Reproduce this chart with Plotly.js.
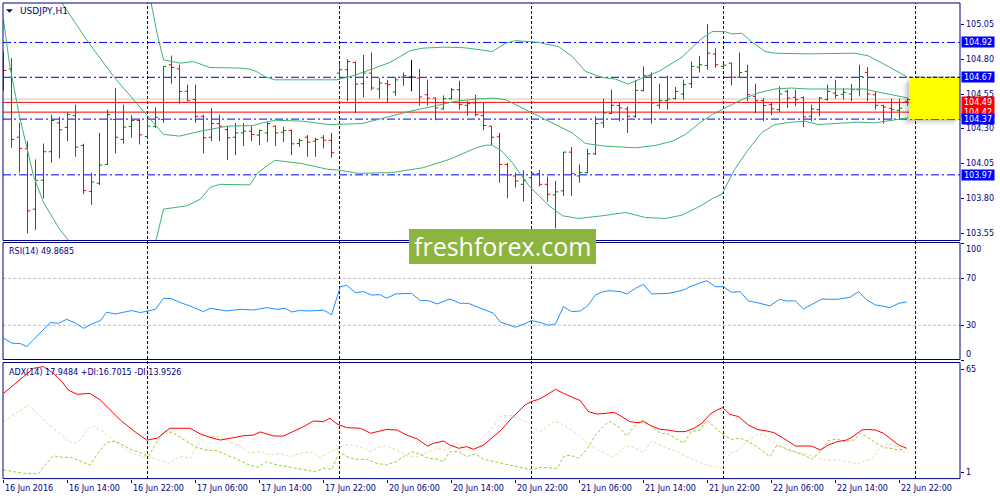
<!DOCTYPE html>
<html><head><meta charset="utf-8">
<script src="https://cdn.plot.ly/plotly-3.0.1.min.js"></script>
<style>html,body{margin:0;padding:0;background:#fff}#chart{width:1000px;height:500px}</style>
</head><body><div id="chart"></div>
<script>
// ---------------- DATA ----------------
const symbolLabel = "USDJPY,H1";
const rsiLabel = "RSI(14) 49.8685";
const adxLabel = "ADX(14) 17.9484 +DI:16.7015 -DI:13.9526";

const barOpen = [
104.800,104.729,104.240,104.157,103.724,103.931,104.136,104.343,104.310,104.395,
104.181,103.850,103.910,104.045,104.367,104.224,104.317,104.360,104.245,104.319,
104.367,104.760,104.731,104.569,104.510,104.390,104.240,104.338,104.295,104.240,
104.271,104.283,104.255,104.271,104.319,104.276,104.288,104.195,104.240,104.212,
104.236,104.217,104.700,104.724,104.776,104.624,104.700,104.586,104.624,104.564,
104.671,104.671,104.664,104.545,104.521,104.443,104.517,104.581,104.469,104.486,
104.395,104.319,104.243,104.045,103.962,103.902,103.950,103.979,103.902,103.826,
103.855,104.133,103.962,103.986,104.121,104.343,104.410,104.467,104.443,104.390,
104.574,104.681,104.469,104.502,104.517,104.550,104.624,104.743,104.755,104.836,
104.748,104.771,104.671,104.712,104.533,104.502,104.474,104.438,104.569,104.526,
104.524,104.390,104.438,104.510,104.557,104.548,104.550,104.581,104.705,104.545,
104.467,104.448,104.433,104.498];
const barHigh = [
104.855,104.807,104.343,104.212,104.081,104.195,104.402,104.386,104.419,104.474,
104.193,103.986,104.271,104.438,104.593,104.474,104.398,104.374,104.367,104.455,
104.752,104.826,104.760,104.617,104.617,104.402,104.450,104.402,104.319,104.343,
104.343,104.319,104.295,104.350,104.324,104.314,104.295,104.231,104.255,104.236,
104.255,104.271,104.776,104.800,104.783,104.831,104.848,104.664,104.652,104.671,
104.705,104.795,104.731,104.652,104.526,104.540,104.593,104.645,104.498,104.545,
104.493,104.319,104.271,104.057,103.986,104.002,103.986,104.005,103.957,103.926,
104.136,104.169,104.045,104.157,104.390,104.517,104.581,104.486,104.462,104.652,
104.748,104.705,104.624,104.681,104.600,104.652,104.783,104.824,105.052,104.879,
104.771,104.776,104.848,104.760,104.624,104.521,104.486,104.605,104.581,104.581,
104.533,104.474,104.529,104.617,104.652,104.593,104.621,104.760,104.743,104.569,
104.474,104.517,104.517,104.521];
const barLow = [
104.576,104.164,103.986,103.550,103.576,103.802,104.057,104.088,104.212,104.100,
103.831,103.755,103.898,104.040,104.124,104.195,104.236,104.188,104.240,104.307,
104.343,104.624,104.481,104.498,104.343,104.124,104.212,104.212,104.076,104.112,
104.176,104.212,104.183,104.205,104.176,104.205,104.112,104.171,104.100,104.100,
104.160,104.093,104.652,104.498,104.414,104.526,104.576,104.517,104.493,104.538,
104.610,104.569,104.467,104.467,104.362,104.438,104.510,104.438,104.395,104.390,
104.290,104.183,103.914,103.802,103.879,103.779,103.771,103.886,103.779,103.586,
103.819,103.819,103.914,103.981,104.112,104.307,104.405,104.355,104.271,104.379,
104.569,104.338,104.445,104.438,104.510,104.510,104.593,104.705,104.724,104.740,
104.736,104.612,104.664,104.498,104.414,104.355,104.398,104.419,104.450,104.462,
104.312,104.355,104.390,104.502,104.517,104.510,104.498,104.533,104.498,104.438,
104.336,104.367,104.367,104.467];
const barClose = [
104.719,104.224,104.160,103.712,103.931,104.136,104.360,104.293,104.402,104.169,
103.857,103.919,104.040,104.402,104.240,104.312,104.360,104.257,104.319,104.383,
104.748,104.740,104.569,104.502,104.390,104.236,104.338,104.319,104.236,104.271,
104.283,104.260,104.288,104.338,104.271,104.288,104.193,104.217,104.205,104.224,
104.219,104.129,104.724,104.783,104.621,104.700,104.593,104.629,104.617,104.652,
104.681,104.671,104.529,104.520,104.450,104.517,104.581,104.474,104.481,104.402,
104.324,104.240,104.045,103.969,103.926,103.931,103.981,103.902,103.831,103.848,
104.133,103.981,103.986,104.121,104.338,104.414,104.469,104.450,104.390,104.576,
104.681,104.486,104.502,104.514,104.569,104.617,104.748,104.760,104.843,104.760,
104.757,104.671,104.705,104.545,104.502,104.467,104.443,104.550,104.521,104.510,
104.386,104.443,104.521,104.569,104.540,104.562,104.581,104.676,104.550,104.469,
104.457,104.438,104.448,104.510];

// Bollinger bands, read at bar positions
const bbUpX = [0,6,12,16,17.5,18.4,19.2,20,22.1,23.75,25.8,29.5,30.75,31.6,32.8,33.9,41.6,43.7,45.8,48.3,50.8,52.4,54.9,57.4,59.1,61.1,62.75,64,65.7,66.9,69.4,71.1,72.75,74.8,76.5,78.1,79.8,81.9,84.8,87.3,88.6,89.3,90.2,91,92.3,93.5,95.2,96.4,100.6,106.4,108.1,110.2,112.3,113];
const bbUp  = [107.3,107.0,106.6,106.0,105.48,105.22,104.986,104.795,104.771,104.783,104.74,104.736,104.729,104.712,104.671,104.652,104.652,104.681,104.724,104.776,104.86,104.879,104.886,104.883,104.871,104.855,104.914,104.933,104.926,104.919,104.89,104.819,104.712,104.669,104.657,104.621,104.664,104.712,104.814,104.95,104.998,104.998,104.998,104.981,104.986,104.926,104.855,104.843,104.838,104.843,104.824,104.76,104.695,104.671];
const bbMidX = [0,3,5,7.1,10.4,13.75,18,20,22,24.6,27.9,29.5,31.2,32.4,34,37.4,40.7,44.8,46,48.3,50.8,54.1,56.6,59.1,61.1,62.75,64,66.1,68.6,71.1,72.75,75.2,79,81.5,83.6,85.25,87.3,88.6,90.2,92.3,94.3,96.4,98.5,100.6,103.1,105.6,107.7,108.9,111.4,113.1];
const bbMid  = [105.83,105.57,105.4,105.22,104.938,104.676,104.39,104.26,104.248,104.283,104.319,104.319,104.324,104.343,104.362,104.355,104.331,104.338,104.355,104.386,104.426,104.467,104.498,104.514,104.521,104.51,104.474,104.414,104.343,104.271,104.195,104.176,104.164,104.181,104.212,104.26,104.355,104.402,104.45,104.51,104.557,104.586,104.593,104.586,104.586,104.586,104.586,104.569,104.538,104.521];
const bbLoX = [0,0.8,2,3.75,5,7,8,10,13,16,18,19.1,20,22.9,24.6,25.8,27,29.5,30.8,31.8,33.9,37.2,40.5,41.8,44.3,48.5,52.4,55.75,57.8,59.1,60.3,61.1,62.3,63.6,65.7,68.2,69.9,71.9,74.8,77.75,80.25,82.75,84.8,87.3,88.6,89.8,91.4,93.1,94.75,96.4,98.5,100.2,101.8,104.75,106.8,108.9,111.4,113.1];
const bbLo  = [105.081,104.748,104.39,103.962,103.771,103.581,103.51,103.3,103.1,103.15,103.3,103.51,103.724,103.748,103.795,103.879,103.902,103.902,103.898,103.986,104.074,104.052,104.01,104.005,103.981,103.986,104.021,104.081,104.129,104.164,104.183,104.183,104.14,104.057,103.89,103.748,103.676,103.657,103.676,103.70,103.664,103.657,103.681,103.752,103.80,103.831,104.01,104.152,104.271,104.331,104.348,104.355,104.331,104.338,104.348,104.343,104.362,104.379];

// RSI(14)
const rsiX = [0,1.05,2.1,2.9,3.75,5.84,6.9,7.9,9,10,11.05,12.1,12.9,14,15,16.05,17.1,18.13,19,20,21,22.1,23.3,25,25.8,27.9,29.6,31.25,32.9,34.2,35.2,36.05,36.9,38.3,40,40.6,41,42.1,42.9,44,45,46,47.1,47.9,49,51,52.1,53.1,54.2,55.8,57.1,58.1,59.6,61.25,62.1,62.9,64,65,66,67.1,68.1,69,70,71,72.1,73,74,75,75.8,77.1,77.9,79,80,81,82.1,83.1,84.2,85.2,85.8,86.9,87.9,89,90,91,92.1,93.1,94.2,95.8,97,97.9,99,100,101.3,102.3,103.4,104.2,105.8,106.9,107.9,109,109.8,110.8,111.9,112.9];
const rsiV = [18.9,14.7,14.4,11.8,17.5,32.3,31.7,35.1,31.7,27.4,31.1,34,41.1,39.6,41.1,42.5,40.8,42.5,43.6,53,52.7,49.3,46.5,41.6,44.5,42.2,43.6,43,45,43.6,44.5,41.3,42.5,42.2,42.8,40.8,38.8,62.9,64,57.8,58.7,55.8,56.1,53,56.7,57.2,51,51,48.2,52.4,48.7,48.7,44.5,40.2,32.7,31.1,28.3,30.9,34,32.3,30,31.1,45.9,41.6,42.2,46.5,55.8,58.7,59.5,58.7,56.7,61.5,64.9,56.7,57.2,57.2,58.7,60.6,62.9,65.7,68,62.9,62.9,58.1,58.7,50.7,49.3,46.5,52.1,50.7,50.7,43.9,48.7,52.4,52.1,52.1,53.8,58.7,51.6,47.3,46.5,45,48.7,49.87];

// ADX(14), +DI, -DI
const adxX = [0,1.25,2.5,3.75,5,6.25,7.3,8.1,9.2,10.8,12.1,13.3,14.6,16.3,17.9,19.2,20.8,23.3,24.6,25.8,27.1,28.8,30,31.25,32.1,32.9,33.75,35,36.25,37.5,38.75,40,40.8,41.7,42.9,44.6,45.9,47.9,49.2,50.4,51.7,53,53.75,55,55.8,56.9,57.9,58.75,60,61.25,62.1,63.7,65.2,66,66.9,67.9,69,70,71,72.1,73.1,74.2,75.4,76.3,77.3,78.3,79.2,80,81,82.1,83.1,84.2,85.2,86.3,87.3,88.3,89.2,89.9,90.8,91.9,93.1,94.2,95.4,96.3,97.5,99,101,102.1,103.1,104.2,105.4,106.3,107.3,107.9,109,110,110.8,111.9,112.9];
const adxV = [50.1,55.3,60.5,65.6,66.7,62.5,57.4,52.2,49.5,50.1,46,39.8,33.6,26.8,21.2,22.3,28.5,28.5,25,22.9,21.2,22.7,23.9,24.3,26.2,25,23.7,23.7,26.4,29.5,33,32.6,34.7,31.1,28.9,28.5,25.4,27.8,27.4,24.3,21.9,17.5,19.2,20.6,18.1,16.1,17.1,15.5,18.1,23.3,26.9,35.7,42.9,45,46.4,49.1,52.6,50.1,48.1,45.6,38.8,37.3,37.8,38.4,35.7,32.6,32,32.6,29.9,27.8,27.4,26.4,26.4,28.5,31.6,37.1,39.8,41.3,37.1,35.7,30.5,27.8,26.8,25.8,22.3,17.5,17.5,15,18.1,20.2,21.2,23.7,27.4,27.8,27.4,25.4,22.3,18.1,16.1];
const pdiX = [0,1.25,2.5,3.75,4.4,5,6.25,7.3,8.3,9.6,10.8,12.1,12.9,14,15,16.05,17.1,18.1,19.2,20.2,21.25,22.3,23.3,24.2,25.4,26.7,27.9,29.2,30.4,31.7,32.9,34.2,35.4,36.7,37.9,39,40,41.05,41.7,42.1,42.9,44,45.4,46.7,47.9,49,50,51.05,52.1,53.1,54.2,55,55.8,56.9,57.9,59,60,62.1,63.3,64.6,66,67.1,68.3,69.2,70,70.8,71.9,73,74,75.1,75.8,76.9,77.9,79,80,81,82.1,83.1,84.2,85,86,87.1,87.9,89,90,91,92.1,93.1,94.2,95,95.8,96.7,97.7,98.75,100,101,102.1,103.1,104.2,105.2,106.3,107.1,107.9,109,110,110.8,111.9,112.7];
const pdiV = [2.65,1.6,0.6,0.3,0.6,4.7,11.5,10.5,10.5,8.2,5.75,15,19.6,20.6,18.1,15,13.4,10.9,20.2,27,25.4,22.3,19.2,16.5,15,14.6,11.9,9.3,6.4,4.3,7.8,5.75,4.7,3.7,2.65,1.6,3.7,3.1,10.9,13.4,10.9,9.3,9.3,6.8,5.75,7.8,10.9,14,12.4,9.9,9.3,7.8,14,14,10.9,12.6,9.3,7.0,5.75,4.3,2.65,4.3,3.7,3.7,10.9,11.9,9.9,16.1,24.3,30.5,32.6,29.5,23.7,30.5,33.6,29.5,25.4,25,21.9,19.2,26.4,27.4,33.6,28.5,24.3,21.7,22.3,20.2,17.1,14,10.9,18.1,16.1,14,11.9,9.3,14,20.8,21.9,20.2,21.2,25.4,23.3,19.6,16.5,16.1,15,15.5];
const mdiX = [0,1.25,2.5,3.1,4.2,5.4,6.7,7.9,8.8,9.6,10.6,11.25,12.5,13.75,15,16.05,17.5,18.75,20,20.8,21.7,22.3,23.3,24.2,25,25.8,27.1,28.3,29.6,30.8,32.1,33.3,34.6,35.8,37.1,38.3,39.6,40.6,41.25,42.5,43.75,45,45.8,47.1,47.9,49.2,50.4,51.7,52.9,54.2,55.4,56.7,57.9,58.75,60,61.25,62.1,63.3,64.6,65.4,66.25,67.1,67.9,69,70,71,72.1,73.1,74.2,75.2,76,76.9,77.7,78.75,80,81,82.1,83.1,84.2,85.4,86.5,87.5,88.75,89.8,90.8,91.9,92.9,94.2,95,96,97.1,98.1,99.2,100.2,101.3,102.3,103.3,104.6,105.6,106.9,107.7,108.5,109.6,110.6,111.7,112.9];
const mdiV = [32.6,36.7,40.9,42.9,37.8,31.6,26.4,21.2,19.2,21.2,28.5,29.5,26.4,21.2,16.1,13,10.9,9.9,7.8,6.8,9.9,10.9,9.9,17.1,24.3,23.3,23.3,20.2,17.1,13,14,11.9,13,10.9,13,14,10.5,13.4,14.6,18.1,18.1,16.1,14,17.1,17.5,15,11.3,10.9,13.4,16.1,15,19.2,15,17.1,23.3,29.5,36,36.7,34,32.6,28.5,26.4,29.5,33,30.5,27.4,23.3,18.1,15.5,13,10.9,13,17.5,16.7,13.4,20.2,18.1,16.1,14,10.9,8.8,6.4,4.7,4.3,13,15,20.2,24.3,25,20.2,16.7,14.6,13.4,12.6,10.9,9.3,8.8,8.8,7.8,6.4,8.4,9.3,16.7,19.2,17.1,12.4];

// price levels
const blueLevels = [104.92, 104.67, 104.37, 103.97];
const redLevels = [104.49, 104.42];
const bidPrice = 104.514;
const zoneHigh = 104.67, zoneLow = 104.37;

// axis ticks
const mainTickVals = [105.05, 104.80, 104.55, 104.30, 104.05, 103.80, 103.55];
const mainTickText = ["105.05","104.80","104.55","104.30","104.05","103.80","103.55"];
const rsiTickVals = [100, 70, 30, 0];
const rsiTickText = ["100","70","30","0"];
const rsiLevels = [70, 30];
const adxTickVals = [65, 1];
const adxTickText = ["65","1"];
const xTickBars = [0,8,16,24,32,40,48,56,64,72,80,88,96,104,112];
const xTickText = ["16 Jun 2016","16 Jun 14:00","16 Jun 22:00","17 Jun 06:00","17 Jun 14:00","17 Jun 22:00","20 Jun 06:00","20 Jun 14:00","20 Jun 22:00","21 Jun 06:00","21 Jun 14:00","21 Jun 22:00","22 Jun 06:00","22 Jun 14:00","22 Jun 22:00"];
const daySepBars = [18, 42, 66, 90, 114];
const watermark = "freshforex.com";

// ---------------- LAYOUT GEOMETRY ----------------
const W = 1000, H = 500, ML = 3, MR = 40, MT = 3, MB = 21;
const PW = W - ML - MR, PH = H - MT - MB;
const fx = px => (px - ML) / PW;           // pixel x -> paper
const fy = py => (H - MB - py) / PH;       // pixel y -> paper
const XR = [-0.0625, 119.5625];
const NAVY = '#000080';
const FONT = 'DejaVu Sans';

// ---------------- TRACES ----------------
const idx = barOpen.map((_, i) => i);
function sel(f) {
  const k = idx.filter(f);
  return {x: k, open: k.map(i => barOpen[i]), high: k.map(i => barHigh[i]),
          low: k.map(i => barLow[i]), close: k.map(i => barClose[i])};
}
function ohlc(s, color) {
  return Object.assign({type: 'ohlc', xaxis: 'x', yaxis: 'y', tickwidth: 0.34,
    increasing: {line: {color: color, width: 1}}, decreasing: {line: {color: color, width: 1}},
    hoverinfo: 'none', showlegend: false}, s);
}
function line(x, y, ya, color, dash) {
  return {type: 'scatter', mode: 'lines', x: x, y: y, xaxis: 'x', yaxis: ya,
    line: {color: color, width: 1, dash: dash || 'solid'}, hoverinfo: 'none', showlegend: false};
}
const BB = '#3CB371';
const traces = [
  line(bbUpX, bbUp, 'y', BB), line(bbMidX, bbMid, 'y', BB), line(bbLoX, bbLo, 'y', BB),
  ohlc(sel(i => barClose[i] > barOpen[i]), '#008000'),
  ohlc(sel(i => barClose[i] < barOpen[i]), '#FF0000'),
  ohlc(sel(i => barClose[i] === barOpen[i]), '#000000'),
  line(rsiX, rsiV, 'y2', '#1E90FF'),
  line(mdiX, mdiV, 'y3', '#F5D5A6', '3px,2px'),
  line(pdiX, pdiV, 'y3', '#9ACD32', '3px,2px'),
  line(adxX, adxV, 'y3', '#FF0000')
];

// ---------------- SHAPES ----------------
const shapes = [];
const lastBar = barOpen.length - 1;
const zx0 = lastBar + 0.2;
// zone shadow + zone
[[6, 0.05], [4, 0.07], [2, 0.09]].forEach(([o, a]) => {
  shapes.push({type: 'rect', layer: 'below', xref: 'x', yref: 'y',
    x0: zx0 - o / 8, x1: XR[1] - o / 8, y0: zoneLow - o * 0.0072, y1: zoneHigh - o * 0.0072,
    fillcolor: 'rgba(0,0,0,' + a + ')', line: {width: 0}});
});
shapes.push({type: 'rect', layer: 'below', xref: 'x', yref: 'y', x0: zx0, x1: XR[1],
  y0: zoneLow, y1: zoneHigh, fillcolor: '#FFFF00', line: {width: 0}});
blueLevels.forEach(p => shapes.push({type: 'line', layer: 'below', xref: 'paper', yref: 'y',
  x0: 0, x1: 1, y0: p, y1: p, line: {color: '#0000FF', width: 1, dash: '8px,3px,2px,3px'}}));
shapes.push({type: 'line', layer: 'below', xref: 'x', yref: 'y', x0: zx0, x1: XR[1],
  y0: zoneHigh, y1: zoneHigh, line: {color: '#000000', width: 1, dash: '4px,2px'}});
shapes.push({type: 'line', layer: 'below', xref: 'paper', yref: 'y', x0: 0, x1: 1,
  y0: bidPrice, y1: bidPrice, line: {color: '#C8C8C8', width: 1}});
redLevels.forEach(p => shapes.push({type: 'line', layer: 'below', xref: 'paper', yref: 'y',
  x0: 0, x1: 1, y0: p, y1: p, line: {color: '#FF0000', width: 1}}));
rsiLevels.forEach(v => shapes.push({type: 'line', layer: 'below', xref: 'paper', yref: 'y2',
  x0: 0, x1: 1, y0: v, y1: v, line: {color: '#C0C0C0', width: 1, dash: '3px,2px'}}));
daySepBars.forEach(b => shapes.push({type: 'line', layer: 'below', xref: 'x', yref: 'paper',
  x0: b, x1: b, y0: 0, y1: 1, line: {color: NAVY, width: 1, dash: '3px,2px'}}));
// panel frames
[[3, 240.5], [242.5, 359.5], [362.5, 478.6]].forEach(([t, b]) => shapes.push({type: 'rect',
  layer: 'above', xref: 'paper', yref: 'paper', x0: 0, x1: 1, y0: fy(b), y1: fy(t),
  line: {color: NAVY, width: 1}, fillcolor: 'rgba(0,0,0,0)'}));
// symbol triangle
shapes.push({type: 'path', layer: 'above', xref: 'paper', yref: 'paper',
  path: 'M ' + fx(6) + ' ' + fy(9.2) + ' L ' + fx(12.8) + ' ' + fy(9.2) + ' L ' + fx(9.4) + ' ' + fy(12.8) + ' Z',
  fillcolor: NAVY, line: {width: 0}});
// watermark box
shapes.push({type: 'rect', layer: 'above', xref: 'paper', yref: 'paper',
  x0: fx(409), x1: fx(596), y0: fy(264), y1: fy(229), fillcolor: '#8DB43F', line: {width: 0}});

// ---------------- ANNOTATIONS ----------------
const ann = [];
const txt = (s, sz, col) => ({family: FONT, size: sz, color: col});
ann.push({xref: 'paper', yref: 'paper', x: fx(18), y: fy(10.8), xanchor: 'left', yanchor: 'middle',
  text: symbolLabel, showarrow: false, font: txt(FONT, 9, NAVY)});
ann.push({xref: 'paper', yref: 'paper', x: fx(7), y: fy(252), xanchor: 'left', yanchor: 'middle',
  text: rsiLabel, showarrow: false, font: txt(FONT, 8, NAVY)});
ann.push({xref: 'paper', yref: 'paper', x: fx(7), y: fy(372), xanchor: 'left', yanchor: 'middle',
  text: adxLabel, showarrow: false, font: txt(FONT, 8, NAVY)});
xTickBars.forEach((b, i) => ann.push({xref: 'x', yref: 'paper', x: b, y: fy(488.5), xanchor: 'left',
  yanchor: 'middle', xshift: -1, text: xTickText[i], showarrow: false, font: txt(FONT, 8, NAVY)}));
function rlab(ya, v, t, ys) {
  ann.push({xref: 'paper', yref: ya, x: 1, y: v, xanchor: 'left', yanchor: 'middle', xshift: 4,
    yshift: ys || 0, text: t, showarrow: false, font: txt(FONT, 8, NAVY)});
}
mainTickVals.forEach((v, i) => rlab('y', v, mainTickText[i]));
rsiTickVals.forEach((v, i) => rlab('y2', v, rsiTickText[i], v === 100 ? -6 : (v === 0 ? 6 : 0)));
adxTickVals.forEach((v, i) => rlab('y3', v, adxTickText[i]));
function box(p, col) {
  ann.push({xref: 'paper', yref: 'y', x: 1, y: p, xanchor: 'left', yanchor: 'middle', xshift: 1,
    text: p.toFixed(2), showarrow: false, bgcolor: col, borderpad: 0, width: 32, height: 10,
    font: txt(FONT, 8, '#FFFFFF')});
}
box(redLevels[1], '#FF0000');
box(redLevels[0], '#FF0000');
blueLevels.forEach(p => box(p, '#0000FF'));
ann.push({xref: 'paper', yref: 'paper', x: fx(502.5), y: fy(246.5), xanchor: 'center', yanchor: 'middle',
  text: watermark, showarrow: false, font: {family: 'Open Sans', size: 25, color: '#FFFFFF'}});

// ---------------- LAYOUT ----------------
const yTickCommon = {side: 'right', ticks: 'outside', ticklen: 3, tickcolor: NAVY, showticklabels: false,
  showgrid: false, zeroline: false, showline: false, fixedrange: true};
const layout = {
  width: W, height: H, margin: {l: ML, r: MR, t: MT, b: MB, pad: 0},
  paper_bgcolor: '#FFFFFF', plot_bgcolor: '#FFFFFF', showlegend: false, hovermode: false,
  xaxis: {range: XR, domain: [0, 1], anchor: 'y3', showgrid: false, zeroline: false, showline: false,
    tickvals: xTickBars, ticks: 'outside', ticklen: 3, tickcolor: NAVY, showticklabels: false,
    rangeslider: {visible: false}, fixedrange: true},
  yaxis: Object.assign({}, yTickCommon, {domain: [fy(240.5), 1], range: [103.499, 105.203],
    tickvals: mainTickVals, anchor: 'x'}),
  yaxis2: Object.assign({}, yTickCommon, {domain: [fy(360.4), fy(243.2)], range: [0, 100],
    tickvals: rsiTickVals, anchor: 'x'}),
  yaxis3: Object.assign({}, yTickCommon, {domain: [0, fy(362.5)], range: [-2.92, 69.21],
    tickvals: adxTickVals, anchor: 'x'}),
  shapes: shapes, annotations: ann
};
Plotly.newPlot('chart', traces, layout, {displayModeBar: false, staticPlot: true});
</script>
</body></html>
